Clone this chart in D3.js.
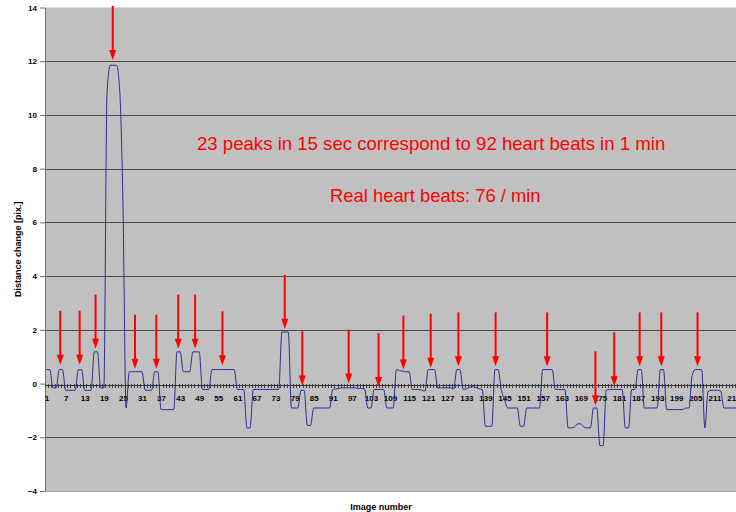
<!DOCTYPE html>
<html><head><meta charset="utf-8">
<script src="https://cdn.jsdelivr.net/npm/d3@7"></script>
<style>html,body{margin:0;padding:0;background:#fff;overflow:hidden}</style>
</head><body><div id="chart"></div>
<script>
// ---- data ----
const values = [
  0.52, 0.52, -0.16, -0.16, 0.52, 0.52, -0.25, -0.25, -0.25, -0.25,
  0.52, 0.52, -0.25, -0.25, -0.25, 1.18, 1.18, -0.16, -0.16, 10.8,
  11.85, 11.85, 11.85, 10.9, 6.8, -0.9, 0.44, 0.44, 0.44, 0.44,
  0.44, -0.25, -0.25, -0.25, 0.44, 0.44, -0.97, -0.97, -0.97, -0.97,
  -0.97, 1.18, 1.18, 0.44, 0.44, 0.44, 1.18, 1.18, 1.18, -0.22,
  -0.22, -0.22, 0.52, 0.52, 0.52, 0.52, 0.52, 0.52, 0.52, 0.52,
  -0.22, -0.22, -0.22, -1.65, -1.65, -0.22, -0.22, -0.22, -0.22, -0.22,
  -0.22, -0.22, -0.22, -0.22, 1.92, 1.92, 1.92, -0.91, -0.91, -0.91,
  -0.25, -0.25, -1.56, -1.56, -0.91, -0.91, -0.91, -0.91, -0.91, -0.91,
  -0.22, -0.2, -0.18, -0.16, -0.16, -0.16, -0.16, -0.16, -0.18, -0.18,
  -0.2, -0.91, -0.91, -0.22, -0.22, -0.22, -0.22, -0.91, -0.91, -0.91,
  0.52, 0.48, 0.46, 0.44, 0.44, -0.22, -0.22, -0.22, -0.25, -0.28,
  0.52, 0.52, 0.52, -0.16, -0.16, -0.16, -0.16, -0.16, -0.2, 0.52,
  0.52, -0.22, -0.2, -0.14, -0.12, -0.14, -0.2, -0.22, -1.59, -1.59,
  -1.59, 0.52, 0.52, -0.25, -0.6, -0.91, -0.91, -0.91, -0.91, -1.59,
  -1.59, -0.91, -0.91, -0.91, -0.91, -0.91, 0.52, 0.52, 0.52, 0.52,
  -0.22, -0.22, -0.22, -0.22, -1.65, -1.65, -1.62, -1.5, -1.5, -1.62,
  -1.65, -1.65, -0.91, -0.91, -2.31, -2.31, -0.25, -0.22, -0.22, -0.22,
  -0.22, -0.22, -1.65, -1.65, -0.22, -0.22, 0.52, 0.52, -0.91, -0.91,
  -0.91, -0.91, -0.91, 0.52, 0.52, -0.97, -0.97, -0.97, -0.97, -0.97,
  -0.97, -0.91, -0.91, 0.3, 0.52, 0.52, 0.52, -1.65, -0.3, -0.25,
  -0.25, -0.25, -0.28, -0.91, -0.91, -0.91, -0.91, -0.91, -0.91, -0.91,
  -0.91, -0.91
];
const categories = values.map((d, i) => i + 1);
const xTickLabels = categories.filter(c => (c - 1) % 6 === 0);
const yTicks = [-4, -2, 0, 2, 4, 6, 8, 10, 12, 14];
const yGrid = [-2, 2, 4, 6, 8, 10, 12];

// arrows: category position of each marked peak and the value where the arrow tip ends
const arrowCats = [5.3, 11.4, 16.4, 21.8, 28.8, 35.5, 42.4, 47.7, 56.3, 75.9, 81.4, 96.0,
                   105.4, 113.2, 121.8, 130.5, 142.2, 158.4, 173.6, 179.5, 187.5, 194.3, 205.7];
const arrowTips = [0.7, 0.7, 1.3, 12.05, 0.55, 0.55, 1.3, 1.3, 0.68, 2.04, -0.07, 0.0,
                   -0.13, 0.52, 0.59, 0.64, 0.64, 0.64, -0.81, -0.1, 0.64, 0.64, 0.64];

const noteLines = ["23 peaks in 15 sec correspond to 92 heart beats in 1 min",
                   "Real heart beats: 76 / min"];
const yTitle = "Distance change [pix.]";
const xTitle = "Image number";

// ---- layout ----
const W = 736, H = 512;
const plotLeft = 45, catW = 3.18, plotTop = 7.5, plotBottom = 491;
const N = categories.length;
const plotRight = plotLeft + N * catW;
const FONT = "Arial, 'Liberation Sans', sans-serif";

const x = d3.scaleLinear().domain([0.5, N + 0.5]).range([plotLeft, plotRight]);
const y = d3.scaleLinear().domain([-4, 14]).range([plotBottom, plotTop]);

const svg = d3.select("#chart").append("svg")
  .attr("width", W).attr("height", H)
  .style("font-family", FONT);

// plot area
svg.append("rect")
  .attr("x", plotLeft).attr("y", plotTop)
  .attr("width", plotRight - plotLeft).attr("height", plotBottom - plotTop)
  .attr("fill", "#c0c0c0");

// bottom border
svg.append("line")
  .attr("x1", plotLeft).attr("x2", plotRight)
  .attr("y1", y(-4) + 0.5).attr("y2", y(-4) + 0.5)
  .attr("stroke", "#a8a8a8").attr("stroke-width", 1);

// gridlines
svg.append("g").selectAll("line").data(yGrid).join("line")
  .attr("x1", plotLeft).attr("x2", plotRight)
  .attr("y1", d => Math.round(y(d)) + 0.5).attr("y2", d => Math.round(y(d)) + 0.5)
  .attr("stroke", "#4a4a4a").attr("stroke-width", 1);

// y axis
const yAxis = svg.append("g")
  .attr("transform", `translate(${plotLeft},0)`)
  .call(d3.axisLeft(y).tickValues(yTicks).tickSize(5).tickPadding(3).tickSizeOuter(0)
        .tickFormat(d3.format("d")));
yAxis.select(".domain").attr("stroke", "#707070");
yAxis.selectAll(".tick line").attr("stroke", "#707070");
yAxis.selectAll("text").attr("font-size", 8).attr("font-weight", "bold")
  .attr("fill", "#000").style("font-family", FONT);

// x axis at zero: minor tick marks at category boundaries
const y0 = Math.round(y(0)) + 0.5;
const xTicksG = svg.append("g")
  .attr("transform", `translate(0,${y0})`)
  .attr("shape-rendering", "crispEdges")
  .call(d3.axisBottom(x).tickValues(d3.range(0.5, N + 1, 1)).tickSize(3).tickSizeOuter(0)
        .tickFormat(""));
xTicksG.select(".domain").attr("stroke", "#303030");
xTicksG.selectAll(".tick line").attr("y1", -1).attr("stroke", "#404040");

// x axis labels
const xLab = svg.append("g")
  .attr("transform", `translate(0,${y0})`)
  .call(d3.axisBottom(x).tickValues(xTickLabels).tickSize(0).tickPadding(11)
        .tickFormat(d3.format("d")));
xLab.select(".domain").remove();
xLab.selectAll("text").attr("font-size", 8).attr("font-weight", "bold")
  .attr("fill", "#000").style("font-family", FONT);

// data line
const line = d3.line()
  .x((d, i) => x(categories[i]))
  .y(d => y(d))
  .curve(d3.curveMonotoneX);
svg.append("path")
  .datum(values)
  .attr("d", line)
  .attr("fill", "none")
  .attr("stroke", "#2d2d94")
  .attr("stroke-width", 1);

// arrows
const arrowLen = 54, headH = 10, headW = 7;
const ag = svg.append("g");
arrowCats.forEach((c, i) => {
  const tx = x(c), ty = y(arrowTips[i]);
  ag.append("line")
    .attr("x1", tx).attr("x2", tx)
    .attr("y1", ty - arrowLen).attr("y2", ty - headH + 1)
    .attr("stroke", "#ff0000").attr("stroke-width", 2);
  ag.append("path")
    .attr("d", `M${tx},${ty}L${tx - headW / 2},${ty - headH}L${tx + headW / 2},${ty - headH}Z`)
    .attr("fill", "#ff0000");
});

// notes
svg.append("text")
  .attr("x", 197).attr("y", 149.5)
  .attr("font-size", 18.6).attr("fill", "#ff0000")
  .text(noteLines[0]);
svg.append("text")
  .attr("x", 330).attr("y", 201.5)
  .attr("font-size", 18.4).attr("fill", "#ff0000")
  .text(noteLines[1]);

// axis titles
svg.append("text")
  .attr("transform", `translate(21,${(plotTop + plotBottom) / 2}) rotate(-90)`)
  .attr("text-anchor", "middle")
  .attr("font-size", 9).attr("font-weight", "bold")
  .text(yTitle);
svg.append("text")
  .attr("x", 381).attr("y", 510)
  .attr("text-anchor", "middle")
  .attr("font-size", 9).attr("font-weight", "bold")
  .text(xTitle);
</script>
</body></html>
